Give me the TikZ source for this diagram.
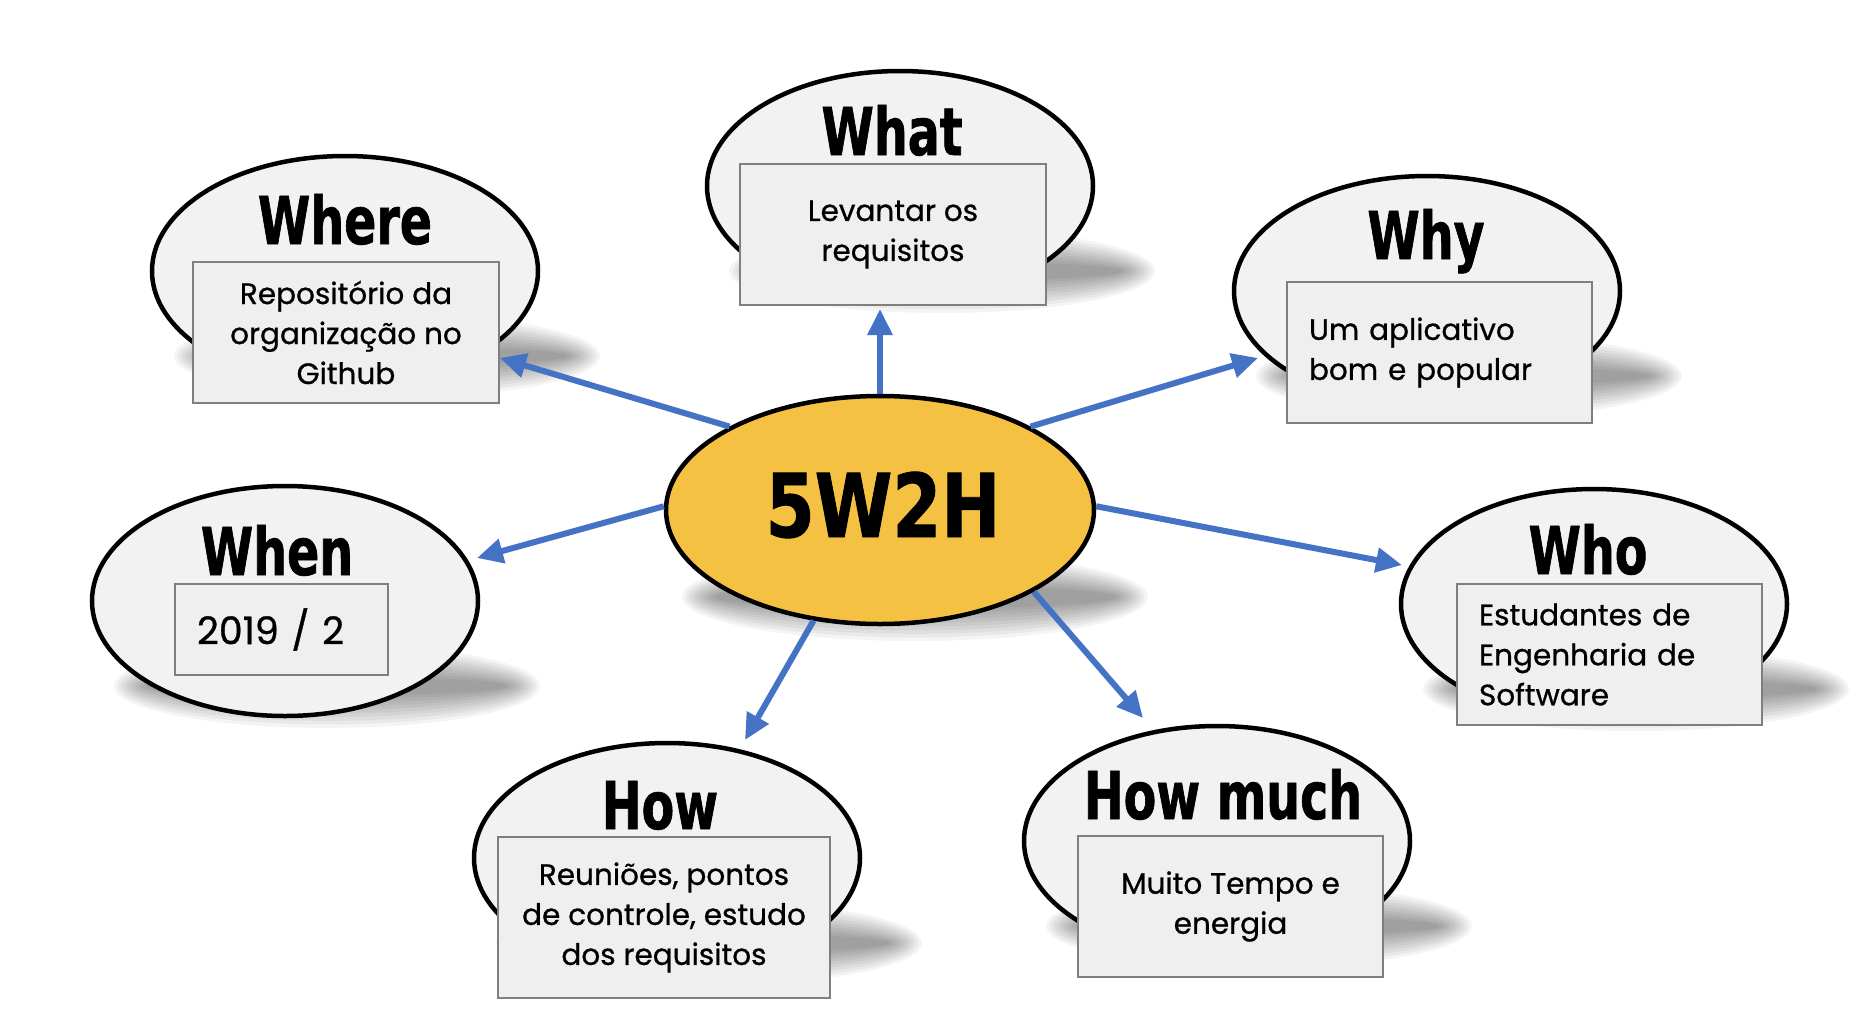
\documentclass[tikz,border=0pt]{standalone}
\usepackage{fontspec}
\setmainfont[FakeBold=0.8]{Poppins}
\newfontfamily\titlefont[FakeStretch=0.72,FakeBold=1]{DejaVu Sans Bold}
\newfontfamily\hubfont[FakeStretch=0.8,FakeBold=1]{DejaVu Sans Bold}
\usetikzlibrary{shapes.geometric,arrows.meta}
\definecolor{ellfill}{HTML}{F2F2F2}
\definecolor{boxfill}{HTML}{EFEFEF}
\definecolor{boxline}{HTML}{7F7F7F}
\definecolor{hubfill}{HTML}{F4C143}
\definecolor{arrblue}{HTML}{4472C4}
\newcommand\softshadow[4]{%
  \foreach \k in {0,...,9}{%
    \fill[black,opacity=0.045] (#1,#2) ellipse [x radius={#3pt+18pt-3.6pt*\k}, y radius={#4pt+18pt-3.6pt*\k}];}}
\begin{document}
\begin{tikzpicture}[x=1pt,y=-1pt,
  sat/.style={ellipse, draw=black, line width=4.5pt, fill=ellfill, minimum width=386pt, minimum height=230pt, inner sep=0pt},
  hub/.style={ellipse, draw=black, line width=4.5pt, fill=hubfill, minimum width=428pt, minimum height=228pt, inner sep=0pt},
  title/.style={font=\titlefont\fontsize{66}{66}\selectfont, anchor=base, inner sep=0pt},
  box/.style={rectangle, draw=boxline, line width=2pt, fill=boxfill, inner sep=0pt, align=center, font=\fontsize{29.5}{40}\selectfont},
  lbox/.style={box, align=left, inner xsep=22pt},
  arr/.style={draw=arrblue, line width=6pt, -{Triangle[length=26pt,width=24pt]}}]
\useasboundingbox (0,0) rectangle (1866,1018);
\fill[white] (0,0) rectangle (1866,1018);
% shadows
\softshadow{942}{271}{195}{24}
\softshadow{387}{356}{195}{24}
\softshadow{1469}{376}{195}{24}
\softshadow{327}{686}{195}{24}
\softshadow{1636}{689}{195}{24}
\softshadow{709}{943}{195}{24}
\softshadow{1259}{926}{195}{24}
\softshadow{915}{597}{215}{26}
% What
\node[sat] (whatE) at (900,186) {};
\node[title] (whatT) at (892,155) {What};
\node[box, minimum width=306pt, minimum height=141pt] (whatB) at (893,234.5) {Levantar os\\requisitos};
% Where
\node[sat] (whereE) at (345,271) {};
\node[title] (whereT) at (345,244) {Where};
\node[box, minimum width=306pt, minimum height=141pt] (whereB) at (346,332.5) {Repositório da\\organização no\\Github};
% Why
\node[sat] (whyE) at (1427,291) {};
\node[title] (whyT) at (1426,259) {Why};
\node[lbox, text width=261pt, minimum width=305pt, minimum height=141pt] (whyB) at (1439.5,352.5) {Um aplicativo\\bom e popular};
% When
\node[sat] (whenE) at (285,601) {};
\node[title] (whenT) at (277,575) {When};
\node[lbox, text width=169pt, minimum width=213pt, minimum height=91pt, font=\fontsize{38}{44}\selectfont] (whenB) at (281.5,629.5) {2019 / 2};
% Who
\node[sat] (whoE) at (1594,604) {};
\node[title] (whoT) at (1588,574) {Who};
\node[lbox, text width=261pt, minimum width=305pt, minimum height=141pt] (whoB) at (1609.5,654.5) {Estudantes de\\Engenharia de\\Software};
% How
\node[sat] (howE) at (667,858) {};
\node[title] (howT) at (660,829) {How};
\node[box, minimum width=332pt, minimum height=161pt] (howB) at (664,917.5) {Reuniões, pontos\\de controle, estudo\\dos requisitos};
% How much
\node[sat] (muchE) at (1217,841) {};
\node[title] (muchT) at (1223,819) {How much};
\node[box, minimum width=305pt, minimum height=141pt] (muchB) at (1230.5,906.5) {Muito Tempo e\\energia};
% hub
\node[hub] (c) at (880,510) {};
\node[font=\hubfont\fontsize{88}{88}\selectfont, anchor=base, inner sep=0pt] (cT) at (883,537) {5W2H};
% arrow tips
\coordinate (tWhat) at (880,309);
\coordinate (tWhere) at (500,358);
\coordinate (tWhy) at (1258,358);
\coordinate (tWho) at (1402,565);
\coordinate (tWhen) at (477,558);
\coordinate (tHow) at (745,740);
\coordinate (tMuch) at (1143,718);
\draw[arr] (c.90) -- (tWhat);
\draw[arr] (c.151) -- (tWhere);
\draw[arr] (c.29.5) -- (tWhy);
\draw[arr] (c.1) -- (tWho);
\draw[arr] (c.179.5) -- (tWhen);
\draw[arr] (c.239) -- (tHow);
\draw[arr] (c.332) -- (tMuch);
\end{tikzpicture}
\end{document}
